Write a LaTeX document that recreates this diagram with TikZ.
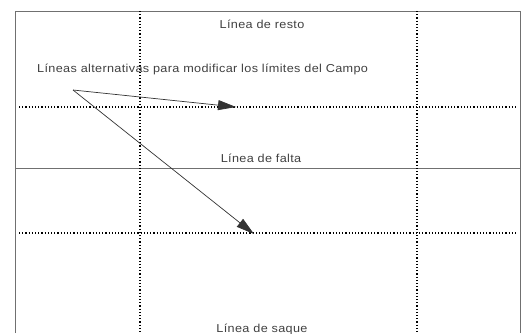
\documentclass[tikz,border=0pt]{standalone}
\usepackage{fontspec}
\setmainfont[FakeStretch=1.1, LetterSpace=3]{Liberation Sans}
\usetikzlibrary{arrows.meta}
\definecolor{txtgray}{HTML}{404040}
\definecolor{bordergray}{HTML}{707070}
\tikzset{
  border/.style={draw=bordergray, line width=0.9pt},
  dotline/.style={draw=black, line width=1.3pt, dash pattern=on 1.1pt off 2.1pt},
  label/.style={text=txtgray, font=\fontsize{11.5}{13}\selectfont, inner sep=0pt},
  pointer/.style={draw=black!80, line width=0.7pt, -{Triangle[length=18pt,width=10pt]}}
}
\begin{document}
\begin{tikzpicture}[x=1pt,y=-1pt]
\useasboundingbox (0,0) rectangle (526,333);
% outer field border (bottom edge lies below the picture)
\coordinate (tl) at (15,11);
\coordinate (tr) at (520,11);
\coordinate (bl) at (15,333);
\coordinate (br) at (520,333);
\draw[border] (bl) -- (tl) -- (tr) -- (br);
% foul line
\coordinate (fl) at (15,168);
\coordinate (fr) at (520,168);
\draw[border] (fl) -- (fr);
% vertical dotted lines
\coordinate (v1t) at (140,11);
\coordinate (v1b) at (140,333);
\coordinate (v2t) at (417,11);
\coordinate (v2b) at (417,333);
\draw[dotline] (v1t) -- (v1b);
\draw[dotline] (v2t) -- (v2b);
% alternative dotted horizontal lines
\coordinate (h1l) at (19,107);
\coordinate (h1r) at (516,107);
\coordinate (h2l) at (19,233);
\coordinate (h2r) at (516,233);
\draw[dotline] (h1l) -- (h1r);
\draw[dotline] (h2l) -- (h2r);
% labels
\node[label] (resto) at (262,24) {Línea de resto};
\node[label, anchor=west] (alt) at (37,69) {Líneas alternativas para modificar los límites del Campo};
\node[label] (falta) at (261,158) {Línea de falta};
\node[label] (saque) at (262,329) {Línea de saque};
% pointers
\coordinate (src) at (73,90);
\coordinate (t1) at (236,107);
\coordinate (t2) at (254,234);
\draw[pointer] (src) -- (t1);
\draw[pointer] (src) -- (t2);
\end{tikzpicture}
\end{document}
